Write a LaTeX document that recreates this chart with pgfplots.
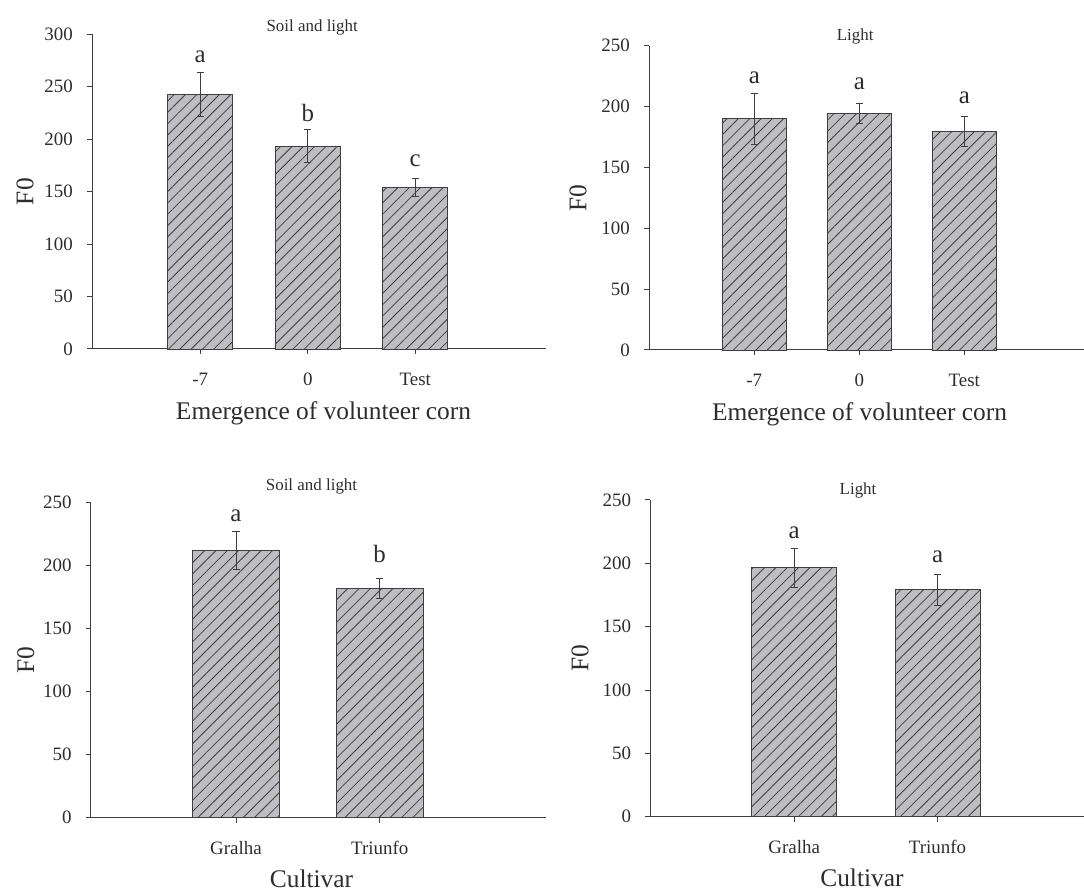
\documentclass[border=0pt]{standalone}
\usepackage{pgfplots}
\pgfplotsset{compat=1.18}
\usetikzlibrary{patterns.meta}
\usepackage{fontspec}
\setmainfont{Liberation Serif}
\definecolor{barfill}{RGB}{190,190,194}
\definecolor{ink}{RGB}{62,62,62}
\definecolor{txt}{RGB}{45,45,45}

\pgfplotstableread{
x y e
0 243 21
1 193.5 16
2 154 8.5
}\tabTL
\pgfplotstableread{
x y e
0 190 21
1 194.5 8.2
2 179.5 12
}\tabTR
\pgfplotstableread{
x y e
0 212 15.2
1 182 7.9
}\tabBL
\pgfplotstableread{
x y e
0 196.5 15.5
1 179 12.5
}\tabBR

\tikzset{letter/.style={anchor=base, font=\fontsize{25}{27}\selectfont, text=txt, inner sep=0pt}}

\pgfplotsset{
  every axis title shift=0pt,
  panel/.style={
    scale only axis,
    anchor=south west,
    axis x line*=bottom, axis y line*=left,
    axis line style={-, draw=ink, line width=1bp},
    x axis line style={-}, y axis line style={-},
    tick style={draw=ink, line width=1bp},
    tick align=outside,
    major tick length=5bp,
    minor tick num=0,
    ymin=0,
    /pgf/number format/assume math mode=true,
    tick label style={font=\fontsize{19}{21}\selectfont, text=txt},
    xticklabel style={anchor=base, yshift=-32bp},
    yticklabel style={anchor=east, inner sep=0pt, xshift=-14bp},
    label style={font=\fontsize{25.5}{28}\selectfont, text=txt},
    xlabel style={at={(axis description cs:0.485,0)}, anchor=base, yshift=-71bp},
    title style={font=\fontsize{17}{19}\selectfont, text=txt, at={(axis description cs:0.485,1)}, anchor=base},
    clip=false,
  },
  bars/.style={
    ybar, bar width=#1, fill=barfill, draw=ink, line width=0.9bp,
    postaction={pattern={Lines[angle=45,distance=8bp,line width=0.8bp]}, pattern color=ink},
    error bars/.cd, y dir=both, y explicit,
    error bar style={draw=ink, line width=1bp},
    error mark options={rotate=90, mark size=3.5bp, draw=ink, line width=1bp},
  },
}

\begin{document}
\begin{tikzpicture}
\useasboundingbox (0,0) rectangle (1084bp,891bp);

% Top left
\begin{axis}[panel, at={(92bp,542bp)}, width=454bp, height=314.7bp,
  xmin=-1.007, xmax=3.216, ymax=300, ytick={0,50,...,300},
  xtick={0,1,2}, xticklabels={-7,0,Test},
  title={Soil and light}, title style={yshift=3bp},
  xlabel={Emergence of volunteer corn}, xlabel style={at={(axis description cs:0.51,0)}},
  ylabel={F0}, ylabel style={at={(axis description cs:-0.1476,0.5)}, anchor=center}]
\addplot[bars=65bp] table[x=x, y=y, y error=e]{\tabTL};
\node[letter] at (axis cs:0,273.3) {a};
\node[letter] at (axis cs:1,216.7) {b};
\node[letter] at (axis cs:2,173.8) {c};
\end{axis}

% Top right
\begin{axis}[panel, at={(649bp,541bp)}, width=435bp, height=304.3bp,
  xmin=-1.003, xmax=3.14, ymax=250, ytick={0,50,...,250},
  xtick={0,1,2}, xticklabels={-7,0,Test},
  title={Light}, title style={yshift=5bp, at={(axis description cs:0.474,1)}},
  xlabel={Emergence of volunteer corn}, xlabel style={at={(axis description cs:0.484,0)}},
  ylabel={F0}, ylabel style={at={(axis description cs:-0.163,0.5)}, anchor=center}]
\addplot[bars=63.5bp] table[x=x, y=y, y error=e]{\tabTR};
\node[letter] at (axis cs:0,219.1) {a};
\node[letter] at (axis cs:1,213.6) {a};
\node[letter] at (axis cs:2,202.1) {a};
\end{axis}

% Bottom left
\begin{axis}[panel, at={(90.7bp,73.3bp)}, width=455.3bp, height=315bp,
  xmin=-1.011, xmax=2.157, ymax=250, ytick={0,50,...,250},
  xtick={0,1}, xticklabels={Gralha,Triunfo},
  title={Soil and light}, title style={yshift=11.7bp},
  xlabel={Cultivar}, xlabel style={at={(axis description cs:0.485,0)}, yshift=1.5bp},
  ylabel={F0}, ylabel style={at={(axis description cs:-0.1425,0.5)}, anchor=center}]
\addplot[bars=87bp] table[x=x, y=y, y error=e]{\tabBL};
\node[letter] at (axis cs:0,234.9) {a};
\node[letter] at (axis cs:1,202.4) {b};
\end{axis}

% Bottom right
\begin{axis}[panel, at={(650.3bp,74.3bp)}, width=433.7bp, height=316.7bp,
  xmin=-1.004, xmax=2.022, ymax=250, ytick={0,50,...,250},
  xtick={0,1}, xticklabels={Gralha,Triunfo},
  title={Light}, title style={yshift=5.7bp, at={(axis description cs:0.479,1)}},
  xlabel={Cultivar}, xlabel style={at={(axis description cs:0.488,0)}, yshift=1.5bp},
  ylabel={F0}, ylabel style={at={(axis description cs:-0.162,0.5)}, anchor=center}]
\addplot[bars=85bp] table[x=x, y=y, y error=e]{\tabBR};
\node[letter] at (axis cs:0,219.7) {a};
\node[letter] at (axis cs:1,200.5) {a};
\end{axis}
\end{tikzpicture}
\end{document}
